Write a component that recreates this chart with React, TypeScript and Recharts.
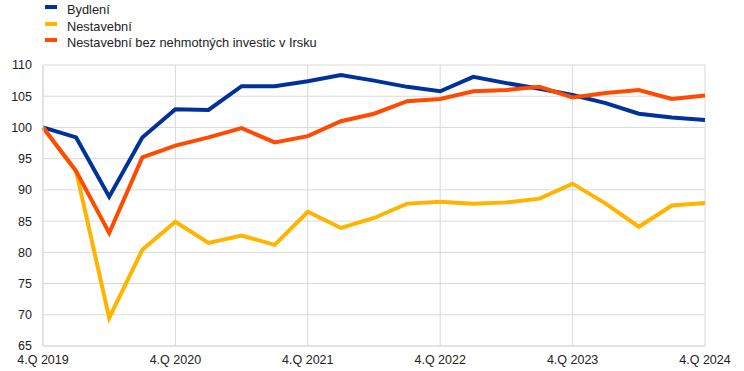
import React from 'react';
import { LineChart, Line, XAxis, YAxis, CartesianGrid } from 'recharts';

document.body.style.margin = '0';

const quarters = [
  '4.Q 2019',
  '1.Q 2020', '2.Q 2020', '3.Q 2020', '4.Q 2020',
  '1.Q 2021', '2.Q 2021', '3.Q 2021', '4.Q 2021',
  '1.Q 2022', '2.Q 2022', '3.Q 2022', '4.Q 2022',
  '1.Q 2023', '2.Q 2023', '3.Q 2023', '4.Q 2023',
  '1.Q 2024', '2.Q 2024', '3.Q 2024', '4.Q 2024',
];

const housing = [
  100, 98.4, 88.9, 98.4, 102.9, 102.8, 106.6, 106.6, 107.4, 108.4, 107.5,
  106.5, 105.8, 108.1, 107.1, 106.2, 105.2, 103.9, 102.2, 101.6, 101.2,
];

const nonConstruction = [
  100, 93, 69.5, 80.4, 84.9, 81.5, 82.7, 81.2, 86.5, 83.9, 85.5,
  87.8, 88.1, 87.8, 88.0, 88.6, 91.0, 87.8, 84.1, 87.5, 87.9,
];

const nonConstructionExIreland = [
  100, 93, 83.1, 95.2, 97.1, 98.4, 99.9, 97.6, 98.6, 101.0, 102.2,
  104.2, 104.55, 105.8, 106.0, 106.5, 104.8, 105.5, 106.0, 104.55, 105.1,
];

const xTicks = ['4.Q 2019', '4.Q 2020', '4.Q 2021', '4.Q 2022', '4.Q 2023', '4.Q 2024'];
const yTicks = [65, 70, 75, 80, 85, 90, 95, 100, 105, 110];

const series = [
  { key: 'housing', name: 'Bydlení', color: '#003299' },
  { key: 'nonConstruction', name: 'Nestavební', color: '#FFB400' },
  { key: 'nonConstructionExIreland', name: 'Nestavební bez nehmotných investic v Irsku', color: '#FF4B00' },
];

const data = quarters.map((q, i) => ({
  q,
  housing: housing[i],
  nonConstruction: nonConstruction[i],
  nonConstructionExIreland: nonConstructionExIreland[i],
}));

const font = '"Liberation Sans", Arial, sans-serif';
const tickStyle = { fill: '#222', fontSize: 12.5, fontFamily: font };

export default function App() {
  return (
    <div style={{ position: 'relative', width: 744, height: 371, fontFamily: font }}>
      <div style={{ position: 'absolute', left: 45, top: 2, zIndex: 1 }}>
        {series.map((s) => (
          <div key={s.key} style={{ display: 'flex', alignItems: 'flex-start', height: 16.7 }}>
            <div style={{ width: 12, height: 4, background: s.color, marginTop: 3, marginRight: 10 }} />
            <span style={{ fontSize: 12.8, lineHeight: '15px', color: '#222' }}>{s.name}</span>
          </div>
        ))}
      </div>
      <LineChart
        width={744}
        height={371}
        data={data}
        margin={{ top: 65, right: 39, bottom: 5, left: 0 }}
      >
        <CartesianGrid stroke="#d9d9d9" strokeWidth={1} />
        <XAxis
          dataKey="q"
          ticks={xTicks}
          interval={0}
          tickLine={false}
          axisLine={{ stroke: '#d9d9d9' }}
          tickSize={0}
          tickMargin={9}
          height={20}
          tick={tickStyle}
        />
        <YAxis
          domain={[65, 110]}
          ticks={yTicks}
          interval={0}
          width={43}
          tickLine={false}
          axisLine={{ stroke: '#d9d9d9' }}
          tickSize={0}
          tickMargin={11}
          tick={tickStyle}
        />
        {series.map((s) => (
          <Line
            key={s.key}
            type="linear"
            dataKey={s.key}
            name={s.name}
            stroke={s.color}
            strokeWidth={4}
            dot={false}
            isAnimationActive={false}
          />
        ))}
      </LineChart>
    </div>
  );
}
